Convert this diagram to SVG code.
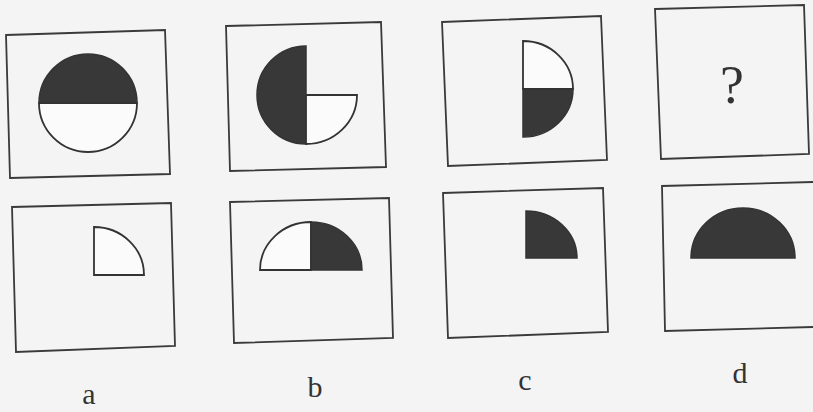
<svg xmlns="http://www.w3.org/2000/svg" width="813" height="412" viewBox="0 0 813 412">
  <style>
    .box { fill: none; stroke: #3a3a3a; stroke-width: 1.8; stroke-linejoin: miter; }
    .w { fill: #fbfbfb; stroke: #333; stroke-width: 1.8; stroke-linejoin: miter; }
    .k { fill: #383838; stroke: #333; stroke-width: 1.5; stroke-linejoin: miter; }
    .lbl { font-family: "Liberation Serif", "Times New Roman", serif; font-size: 30px; fill: #333; text-anchor: middle; }
    .q { font-family: "Liberation Serif", "Times New Roman", serif; font-size: 54px; fill: #333; text-anchor: middle; }
  </style>
  <rect width="813" height="412" fill="#f4f4f4"/>

  <g id="top-a">
    <polygon class="box" points="6,35 165,30 170,174 10,178"/>
    <path class="w" d="M39,103 A49,49 0 0 0 137,103 Z"/>
    <path class="k" d="M39,103 A49,49 0 0 1 137,103 Z"/>
  </g>

  <g id="top-b">
    <polygon class="box" points="226,26 381,22 386,167 230,171"/>
    <path class="k" d="M306,46 A49,49 0 0 0 306,144 Z"/>
    <path class="w" d="M306,95 L357,95 A51,49 0 0 1 306,144 Z"/>
  </g>

  <g id="top-c">
    <polygon class="box" points="442,22 601,16 607,160 448,166"/>
    <path class="w" d="M523,41 A50,48 0 0 1 573,89 L523,89 Z"/>
    <path class="k" d="M523,89 L573,89 A50,48 0 0 1 523,137 Z"/>
  </g>

  <g id="top-d">
    <polygon class="box" points="655,9 804,5 809,154 661,159"/>
    <text class="q" x="732" y="103">?</text>
  </g>

  <g id="opt-a">
    <polygon class="box" points="12,207 171,203 175,346 16,352"/>
    <path class="w" d="M94,227 A50,48 0 0 1 144,275 L94,275 Z"/>
    <text class="lbl" x="89" y="404">a</text>
  </g>

  <g id="opt-b">
    <polygon class="box" points="230,202 389,198 393,338 234,343"/>
    <path class="w" d="M260,270 A51,48 0 0 1 311,222 L311,270 Z"/>
    <path class="k" d="M311,222 A51,48 0 0 1 362,270 L311,270 Z"/>
    <text class="lbl" x="315" y="397">b</text>
  </g>

  <g id="opt-c">
    <polygon class="box" points="443,193 603,188 608,332 448,338"/>
    <path class="k" d="M526,211 A51,47 0 0 1 577,258 L526,258 Z"/>
    <text class="lbl" x="525" y="390">c</text>
  </g>

  <g id="opt-d">
    <path class="box" d="M813,182 L662,186 L665,331 L813,327"/>
    <path class="k" d="M691,258 A52,50 0 0 1 795,258 Z"/>
    <text class="lbl" x="740" y="383">d</text>
  </g>

  <g id="connectors"></g>
</svg>
